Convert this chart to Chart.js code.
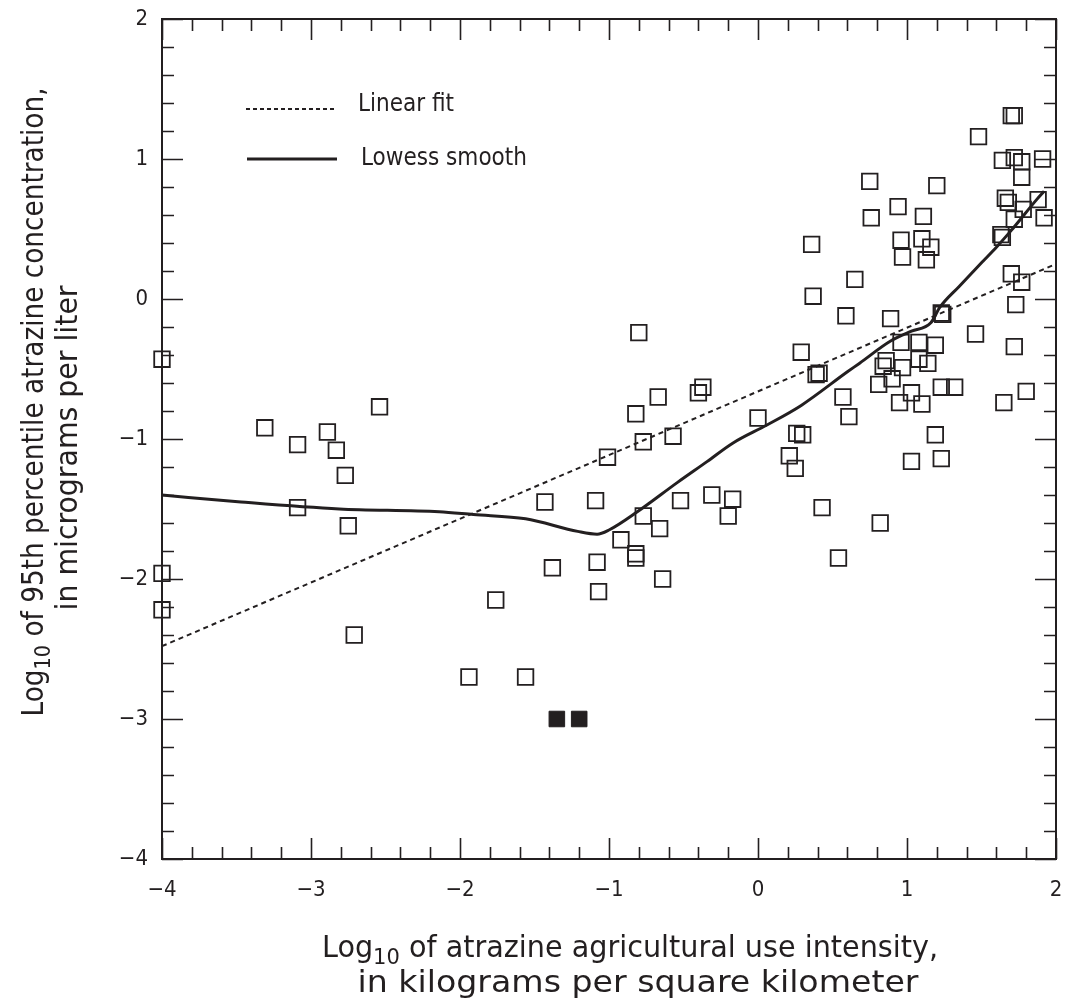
<!DOCTYPE html>
<html>
<head>
<meta charset="utf-8">
<title>Atrazine concentration vs agricultural use</title>
<script src="https://cdn.jsdelivr.net/npm/chart.js@4.4.1/dist/chart.umd.min.js"></script>
<style>
  html, body { margin: 0; padding: 0; background: #fff; overflow: hidden; }
  #wrap { width: 1092px; height: 1005px; position: relative; }
</style>
</head>
<body>
<div id="wrap"><canvas id="chartAtrazine"></canvas></div>
<script>
// Log10 use intensity (x) vs log10 95th percentile concentration (y)

const openX = [
  -4.00, -3.31, -3.09, -2.89, -2.83, -2.77, -2.54, -3.09, -2.75, -4.00, -4.00, -2.71,
  -0.80, -0.67, -0.82, -0.40, -0.37, -0.77, -0.57, -1.01, -1.43, -1.09, -0.77, -0.66,
  -0.52, -0.31, -0.17, -0.20, -0.92, -0.82, -0.82, -1.38, -1.08, -1.07, -0.64, -1.76,
  -1.94, -1.56,
  0.75, 0.94, 0.76, 0.96, 0.97, 0.36, 0.65, 0.37, 0.59, 0.89, 0.29, 0.39, 0.41, 0.86,
  0.84, 0.81, 0.90, 0.57, 0.61, 0.00, 0.26, 0.30, 0.21, 0.25, 0.43, 0.82, 0.54, 1.03,
  1.23,
  1.70, 1.72, 1.48, 1.64, 1.72, 1.77, 1.91, 1.77, 1.20, 1.11, 1.66, 1.68, 1.88, 1.78,
  1.92, 1.72, 1.63, 1.64, 1.10, 1.16, 1.13, 1.70, 1.77, 1.73, 1.23, 1.24, 1.46, 1.72,
  0.96, 1.08, 1.19, 1.08, 1.14, 0.97, 1.03, 1.23, 1.32, 0.95, 1.10, 1.65, 1.80, 1.19
];
const openY = [
  -0.43, -0.92, -1.04, -0.95, -1.08, -1.26, -0.77, -1.49, -1.62, -1.96, -2.22, -2.40,
  -0.24, -0.70, -0.82, -0.67, -0.63, -1.02, -0.98, -1.13, -1.45, -1.44, -1.55, -1.64,
  -1.44, -1.40, -1.43, -1.55, -1.72, -1.82, -1.85, -1.92, -1.88, -2.09, -2.00, -2.15,
  -2.70, -2.70,
  0.84, 0.66, 0.58, 0.42, 0.30, 0.39, 0.14, 0.02, -0.12, -0.14, -0.38, -0.54, -0.53, -0.44,
  -0.48, -0.61, -0.57, -0.70, -0.84, -0.85, -0.96, -0.97, -1.12, -1.21, -1.49, -1.60, -1.85, -1.16,
  -1.14,
  1.31, 1.31, 1.16, 0.99, 1.01, 0.98, 1.00, 0.87, 0.81, 0.59, 0.72, 0.69, 0.71, 0.64,
  0.58, 0.57, 0.46, 0.44, 0.43, 0.37, 0.28, 0.18, 0.12, -0.04, -0.10, -0.11, -0.25, -0.34,
  -0.31, -0.31, -0.33, -0.43, -0.46, -0.49, -0.67, -0.63, -0.63, -0.74, -0.75, -0.74, -0.66, -0.97
];

// filled squares (censored values)
const filledX = [-1.35, -1.20];
const filledY = [-3.00, -3.00];

const fitX = [-4, 2];
const fitY = [-2.48, 0.25];

const lowessX = [-4.00, -3.47, -2.81, -2.14, -1.91, -1.56, -1.21, -1.08, -1.00, -0.81, -0.54,
  -0.34, -0.17, 0.06, 0.29, 0.60, 0.68, 0.89, 1.03, 1.16, 1.22, 1.35, 1.51, 1.60, 1.70, 1.87, 1.92];
const lowessY = [-1.40, -1.45, -1.50, -1.52, -1.54, -1.57, -1.66, -1.68, -1.65, -1.52, -1.31,
  -1.16, -1.03, -0.90, -0.76, -0.52, -0.46, -0.30, -0.23, -0.17, -0.06, 0.09, 0.27, 0.37, 0.49, 0.71, 0.77];

const xTickValues = [-4, -3, -2, -1, 0, 1, 2];
const yTickValues = [-4, -3, -2, -1, 0, 1, 2];
const minorStep = 0.2;

const INK = "#231f20";
const FONT = '"DejaVu Sans Condensed", "Liberation Sans Narrow", "Arial Narrow", sans-serif';
const AREA_RIGHT = 1056;

function pts(xs, ys) {
  return xs.map((x, i) => ({ x: x, y: ys[i] }));
}

function fmtTick(v) {
  return v < 0 ? "\u2212" + Math.abs(v) : String(v);
}

// frame + inward ticks on all four sides
const frameTicks = {
  id: "frameTicks",
  afterDatasetsDraw(chart) {
    const { ctx, chartArea: a, scales } = chart;
    const xs = scales.x, ys = scales.y;
    ctx.save();
    ctx.strokeStyle = INK;
    ctx.lineWidth = 2;
    ctx.strokeRect(a.left, a.top, a.right - a.left, a.bottom - a.top);
    ctx.lineWidth = 1.6;
    ctx.beginPath();
    for (let v = xs.min; v <= xs.max + 1e-6; v += minorStep) {
      const major = Math.abs(v - Math.round(v)) < 1e-6;
      const len = major ? 21 : 12;
      const px = Math.round(xs.getPixelForValue(v)) + 0.5;
      ctx.moveTo(px, a.bottom); ctx.lineTo(px, a.bottom - len);
      ctx.moveTo(px, a.top); ctx.lineTo(px, a.top + len);
    }
    for (let v = ys.min; v <= ys.max + 1e-6; v += minorStep) {
      const major = Math.abs(v - Math.round(v)) < 1e-6;
      const len = major ? 21 : 12;
      const py = Math.round(ys.getPixelForValue(v)) + 0.5;
      ctx.moveTo(a.left, py); ctx.lineTo(a.left + len, py);
      ctx.moveTo(a.right, py); ctx.lineTo(a.right - len, py);
    }
    ctx.stroke();
    ctx.restore();
  },
};

// one title line, squeezed to a given width, optional "10" subscript after "Log"
function drawTitleLine(ctx, text, size, width, withLog) {
  const sub = Math.round(size * 0.72);
  const parts = withLog
    ? [{ t: "Log", s: size, dy: 0 }, { t: "10", s: sub, dy: size * 0.24 }, { t: text, s: size, dy: 0 }]
    : [{ t: text, s: size, dy: 0 }];
  let total = 0;
  parts.forEach((p) => {
    ctx.font = p.s + "px " + FONT;
    p.w = ctx.measureText(p.t).width;
    total += p.w;
  });
  ctx.scale(width / total, 1);
  ctx.textAlign = "left";
  let x = -total / 2;
  parts.forEach((p) => {
    ctx.font = p.s + "px " + FONT;
    ctx.fillText(p.t, x, p.dy);
    x += p.w;
  });
}

const titlesLegend = {
  id: "titlesLegend",
  afterDraw(chart) {
    const ctx = chart.ctx;
    ctx.save();
    ctx.fillStyle = INK;
    ctx.textBaseline = "alphabetic";

    // x-axis title
    ctx.save();
    ctx.translate(630, 957);
    drawTitleLine(ctx, " of atrazine agricultural use intensity,", 30, 616, true);
    ctx.restore();
    ctx.save();
    ctx.translate(638, 992);
    drawTitleLine(ctx, "in kilograms per square kilometer", 30, 561, false);
    ctx.restore();

    // y-axis title
    ctx.save();
    ctx.translate(43, 402);
    ctx.rotate(-Math.PI / 2);
    drawTitleLine(ctx, " of 95th percentile atrazine concentration,", 30, 629, true);
    ctx.restore();
    ctx.save();
    ctx.translate(77, 448);
    ctx.rotate(-Math.PI / 2);
    drawTitleLine(ctx, "in micrograms per liter", 30, 325, false);
    ctx.restore();

    // legend
    ctx.strokeStyle = INK;
    ctx.lineWidth = 2;
    ctx.setLineDash([4, 3]);
    ctx.beginPath();
    ctx.moveTo(246, 109); ctx.lineTo(337, 109);
    ctx.stroke();
    ctx.setLineDash([]);
    ctx.lineWidth = 3;
    ctx.beginPath();
    ctx.moveTo(247, 159); ctx.lineTo(337, 159);
    ctx.stroke();
    ctx.font = "24px " + FONT;
    ctx.textAlign = "left";
    ctx.fillText("Linear fit", 358, 111);
    ctx.fillText("Lowess smooth", 361, 165);
    ctx.restore();
  },
};

function initChart() {
  const ctx = document.getElementById("chartAtrazine").getContext("2d");
  return new Chart(ctx, {
    type: "scatter",
    data: {
      datasets: [
        {
          label: "Lowess smooth",
          data: pts(lowessX, lowessY),
          showLine: true,
          borderColor: INK,
          borderWidth: 3,
          pointRadius: 0,
          cubicInterpolationMode: "monotone",
          order: 0,
        },
        {
          label: "Linear fit",
          data: pts(fitX, fitY),
          showLine: true,
          borderColor: INK,
          borderWidth: 2,
          borderDash: [5, 4],
          pointRadius: 0,
          order: 0,
        },
        {
          label: "Sites",
          data: pts(openX, openY),
          pointStyle: "rect",
          pointRadius: 11,
          borderColor: INK,
          borderWidth: 1.8,
          backgroundColor: "rgba(0,0,0,0)",
          clip: false,
          order: 1,
        },
        {
          label: "Censored",
          data: pts(filledX, filledY),
          pointStyle: "rect",
          pointRadius: 11,
          borderColor: INK,
          borderWidth: 1,
          backgroundColor: INK,
          clip: false,
          order: 1,
        },
      ],
    },
    options: {
      responsive: true,
      maintainAspectRatio: false,
      animation: false,
      layout: { padding: { left: 0, right: 1092 - AREA_RIGHT, top: 19, bottom: 0 } },
      plugins: {
        legend: { display: false },
        tooltip: { enabled: false },
      },
      scales: {
        x: {
          type: "linear",
          min: -4,
          max: 2,
          afterBuildTicks: (s) => { s.ticks = xTickValues.map((v) => ({ value: v })); },
          afterFit: (s) => { s.height = 146; s.paddingLeft = 0; s.paddingRight = 0; },
          ticks: {
            callback: fmtTick,
            color: INK,
            font: { family: FONT, size: 22 },
            padding: 18,
            maxRotation: 0,
          },
          grid: { display: false, drawTicks: false },
          border: { display: false },
        },
        y: {
          type: "linear",
          min: -4,
          max: 2,
          afterBuildTicks: (s) => { s.ticks = yTickValues.map((v) => ({ value: v })); },
          afterFit: (s) => { s.width = 162; s.paddingTop = 0; s.paddingBottom = 0; },
          ticks: {
            callback: fmtTick,
            color: INK,
            font: { family: FONT, size: 22 },
            padding: 14,
          },
          grid: { display: false, drawTicks: false },
          border: { display: false },
        },
      },
    },
    plugins: [frameTicks, titlesLegend],
  });
}

const chart = initChart();

// keep the plot box right edge where the reference has it
const gap = Math.round(AREA_RIGHT - chart.chartArea.right);
if (gap !== 0) {
  document.getElementById("wrap").style.width = (1092 + gap) + "px";
  chart.resize();
}
</script>
</body>
</html>
